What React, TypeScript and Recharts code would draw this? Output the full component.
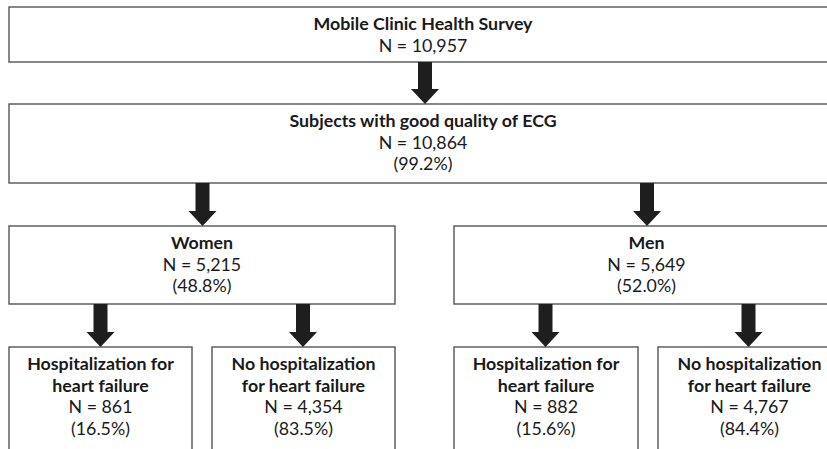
import React from 'react';
import { ComposedChart, XAxis, YAxis, ReferenceArea } from 'recharts';

const W = 827;
const H = 449;

// ---- flowchart content ----
const nodeTitles: string[][] = [
  ['Mobile Clinic Health Survey'],
  ['Subjects with good quality of ECG'],
  ['Women'],
  ['Men'],
  ['Hospitalization for', 'heart failure'],
  ['No hospitalization', 'for heart failure'],
  ['Hospitalization for', 'heart failure'],
  ['No hospitalization', 'for heart failure'],
];
const nodeCounts = ['10,957', '10,864', '5,215', '5,649', '861', '4,354', '882', '4,767'];
const nodePercents = ['', '99.2%', '48.8%', '52.0%', '16.5%', '83.5%', '15.6%', '84.4%'];

// ---- layout (chart coordinates) ----
const nodeLeft = [9, 9, 9, 454, 9, 212, 454, 658];
const nodeRight = [837, 837, 395, 839, 192, 395, 638, 841];
const nodeTop = [7, 104, 226, 226, 347, 347, 347, 347];
const nodeBottom = [62, 183, 304, 304, 460, 460, 460, 460];

const arrowX = [425, 202.5, 647, 100.5, 303, 545.5, 748.5];
const arrowTop = [62, 183, 183, 304, 304, 304, 304];
const arrowBottom = [104, 226, 226, 347, 347, 347, 347];

const FONT = 'Lato, "Open Sans", sans-serif';
const TEXT = '#1a1a1a';
const BORDER = '#555555';
const ARROW = '#1e1e1e';

const frame = [{ x: 0, y: 0 }, { x: W, y: H }];

const makeBox = (i: number) => (props: any) => {
  const { x, y, width, height } = props;
  const lines: { t: string; bold: boolean }[] = [];
  nodeTitles[i].forEach((t) => lines.push({ t, bold: true }));
  lines.push({ t: `N = ${nodeCounts[i]}`, bold: false });
  if (nodePercents[i]) lines.push({ t: `(${nodePercents[i]})`, bold: false });
  const cx = x + width / 2;
  return (
    <g>
      <rect x={x} y={y} width={width} height={height} fill="#ffffff" stroke={BORDER} strokeWidth={1.4} />
      {lines.map((l, k) => (
        <text
          key={k}
          x={cx}
          y={y + 23 + k * 21.5}
          textAnchor="middle"
          fontFamily={FONT}
          fontSize={17.8}
          fontWeight={l.bold ? 700 : 400}
          fill={TEXT}
        >
          {l.t}
        </text>
      ))}
    </g>
  );
};

const ArrowShape = (props: any) => {
  const { x, y, width, height } = props;
  const cx = x + width / 2;
  const headH = 15;
  const sw = 7;
  const hw = 14;
  const yb = y + height;
  const yh = yb - headH;
  const pts = [
    [cx - sw, y],
    [cx + sw, y],
    [cx + sw, yh],
    [cx + hw, yh],
    [cx, yb],
    [cx - hw, yh],
    [cx - sw, yh],
  ]
    .map((p) => p.join(','))
    .join(' ');
  return <polygon points={pts} fill={ARROW} stroke="none" />;
};

export default function App() {
  return (
    <div style={{ position: 'fixed', left: 0, top: 0, width: W, height: H, overflow: 'hidden', background: '#fff' }}>
      <ComposedChart width={W} height={H} data={frame} margin={{ top: 0, right: 0, bottom: 0, left: 0 }}>
        <XAxis type="number" dataKey="x" domain={[0, W]} hide allowDataOverflow />
        <YAxis type="number" dataKey="y" domain={[0, H]} reversed hide allowDataOverflow />
        {nodeTitles.map((_, i) => (
          <ReferenceArea
            key={`n${i}`}
            x1={nodeLeft[i]}
            x2={nodeRight[i]}
            y1={nodeTop[i]}
            y2={nodeBottom[i]}
            ifOverflow="visible"
            shape={makeBox(i)}
            isAnimationActive={false}
          />
        ))}
        {arrowX.map((ax, i) => (
          <ReferenceArea
            key={`a${i}`}
            x1={ax - 14}
            x2={ax + 14}
            y1={arrowTop[i]}
            y2={arrowBottom[i]}
            ifOverflow="visible"
            shape={ArrowShape}
            isAnimationActive={false}
          />
        ))}
      </ComposedChart>
    </div>
  );
}
